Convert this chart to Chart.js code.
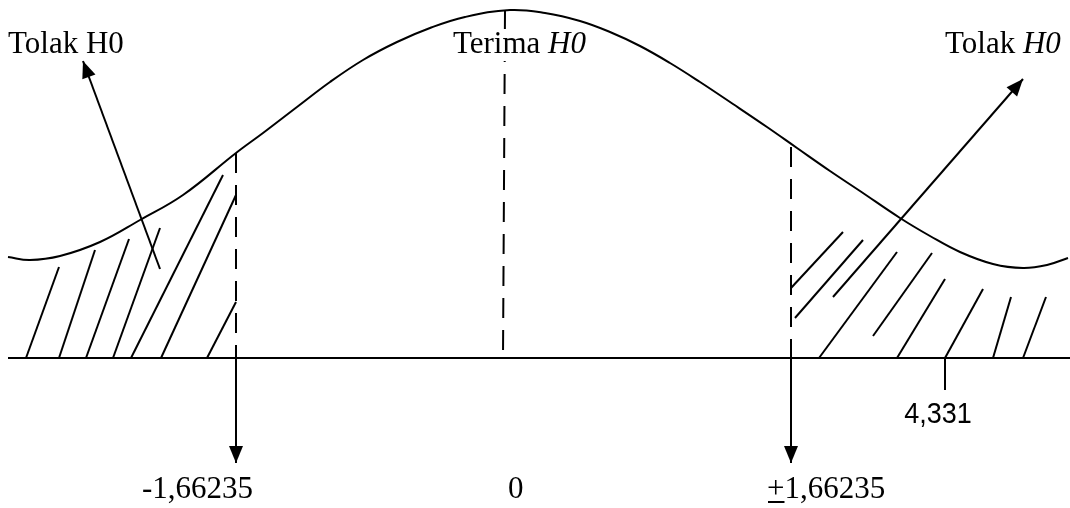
<!DOCTYPE html>
<html>
<head>
<meta charset="utf-8">
<script src="https://cdn.jsdelivr.net/npm/chart.js@4.4.0/dist/chart.umd.min.js"></script>
<style>
  body { margin: 0; background: #fff; }
  #wrap { width: 1070px; height: 508px; }
</style>
</head>
<body>
<div id="wrap"><canvas id="kurva"></canvas></div>
<script>
// kurva normal (satuan gambar)
const curveX = [8, 30, 60, 100, 140, 183, 236, 263, 297, 330, 363, 397, 430, 465, 510, 545, 580, 610, 640, 670, 700, 733, 767, 797, 830, 860, 900, 930, 960, 993, 1023, 1047, 1068];
const curveY = [257, 260, 256, 242, 220, 195, 153, 133, 107, 82, 60, 42, 28, 17, 10, 13, 21, 32, 46, 63, 82, 104, 127, 148, 171, 191, 218, 236, 252, 264, 268, 265, 258];

const baseX = [8, 1070];
const baseY = 358;

// garis putus-putus: x1, y1, x2, y2
const dashLines = [[236, 153, 236, 358], [505, 10, 503, 358], [791, 147, 791, 358]];
// panah (ujung di titik kedua)
const arrowLines = [[160, 269, 83, 61], [833, 297, 1023, 79], [236, 358, 236, 463], [791, 358, 791, 463]];
// arsiran daerah tolak
const hatchLeft = [[26, 358, 59, 267], [59, 358, 95, 250], [86, 358, 129, 239], [113, 358, 160, 228], [131, 358, 223, 175], [161, 358, 236, 195], [207, 358, 236, 302]];
const hatchRight = [[791, 288, 843, 232], [795, 318, 863, 240], [819, 358, 897, 252], [873, 336, 932, 253], [897, 358, 945, 279], [945, 358, 983, 289], [993, 358, 1011, 297], [1023, 358, 1046, 297]];
const tickLine = [945, 358, 945, 390];

// teks: [isi, miring?]
const labelTolakKiri = [['Tolak H0', false]];
const labelTerima = [['Terima ', false], ['H0', true]];
const labelTolakKanan = [['Tolak ', false], ['H0', true]];
const labelKiri = '-1,66235';
const labelNol = '0';
const labelKanan = '1,66235';
const labelHitung = '4,331';

function seg(s, extra) {
  return Object.assign({
    data: [{x: s[0], y: s[1]}, {x: s[2], y: s[3]}],
    showLine: true, borderColor: '#000', borderWidth: 2, pointRadius: 0, fill: false
  }, extra || {});
}

const datasets = [];
datasets.push({
  data: curveX.map((x, i) => ({x: x, y: curveY[i]})),
  showLine: true, borderColor: '#000', borderWidth: 2, pointRadius: 0,
  tension: 0.4, fill: false
});
datasets.push(seg([baseX[0], baseY, baseX[1], baseY]));
dashLines.forEach(d => datasets.push(seg(d, {borderDash: [20, 12]})));
arrowLines.forEach(a => datasets.push(seg(a)));
hatchLeft.concat(hatchRight).forEach(h => datasets.push(seg(h)));
datasets.push(seg(tickLine));

const serif = '31px "Liberation Serif", "Times New Roman", serif';
const serifIt = 'italic 31px "Liberation Serif", "Times New Roman", serif';

const annotasi = {
  id: 'annotasi',
  afterDatasetsDraw(chart) {
    const ctx = chart.ctx;
    const sx = chart.scales.x, sy = chart.scales.y;
    const px = v => sx.getPixelForValue(v);
    const py = v => sy.getPixelForValue(v);

    // kepala panah
    ctx.save();
    ctx.fillStyle = '#000';
    arrowLines.forEach(a => {
      const x1 = px(a[0]), y1 = py(a[1]), x2 = px(a[2]), y2 = py(a[3]);
      const ang = Math.atan2(y2 - y1, x2 - x1);
      const len = 17, half = 7;
      ctx.beginPath();
      ctx.moveTo(x2, y2);
      ctx.lineTo(x2 - len * Math.cos(ang) + half * Math.sin(ang), y2 - len * Math.sin(ang) - half * Math.cos(ang));
      ctx.lineTo(x2 - len * Math.cos(ang) - half * Math.sin(ang), y2 - len * Math.sin(ang) + half * Math.cos(ang));
      ctx.closePath();
      ctx.fill();
    });
    ctx.restore();

    function tulis(parts, x, y, bg) {
      ctx.save();
      ctx.textBaseline = 'alphabetic';
      ctx.textAlign = 'left';
      let w = 0;
      parts.forEach(p => { ctx.font = p[1] ? serifIt : serif; w += ctx.measureText(p[0]).width; });
      let cx = px(x);
      if (bg) {
        ctx.fillStyle = '#fff';
        ctx.fillRect(cx - 2, py(y) - 24, w + 4, 32);
      }
      ctx.fillStyle = '#000';
      parts.forEach(p => {
        ctx.font = p[1] ? serifIt : serif;
        ctx.fillText(p[0], cx, py(y));
        cx += ctx.measureText(p[0]).width;
      });
      ctx.restore();
    }

    tulis(labelTolakKiri, 8, 53);
    tulis(labelTerima, 453, 53, true);
    tulis(labelTolakKanan, 945, 53);
    tulis([[labelKiri, false]], 142, 498);
    tulis([[labelNol, false]], 508, 498);

    // "+" bergaris bawah
    ctx.save();
    ctx.font = serif;
    ctx.fillStyle = '#000';
    const plusX = px(767), by = py(498);
    ctx.fillText('+', plusX, by);
    const pw = ctx.measureText('+').width;
    ctx.fillRect(plusX + 1, by + 3, pw - 1, 2);
    ctx.fillText(labelKanan, plusX + pw, by);
    ctx.restore();

    // 4,331 agak sempit
    ctx.save();
    ctx.font = '30px "Liberation Sans", Arial, sans-serif';
    ctx.fillStyle = '#000';
    ctx.textAlign = 'center';
    ctx.translate(px(938), py(423));
    ctx.scale(0.9, 1);
    ctx.fillText(labelHitung, 0, 0);
    ctx.restore();
  }
};

new Chart(document.getElementById('kurva'), {
  type: 'scatter',
  data: { datasets: datasets },
  options: {
    responsive: true,
    maintainAspectRatio: false,
    animation: false,
    layout: { padding: 0 },
    plugins: { legend: { display: false }, tooltip: { enabled: false } },
    scales: {
      x: { type: 'linear', min: 0, max: 1070, display: false },
      y: { type: 'linear', min: 0, max: 508, reverse: true, display: false }
    }
  },
  plugins: [annotasi]
});
</script>
</body>
</html>
